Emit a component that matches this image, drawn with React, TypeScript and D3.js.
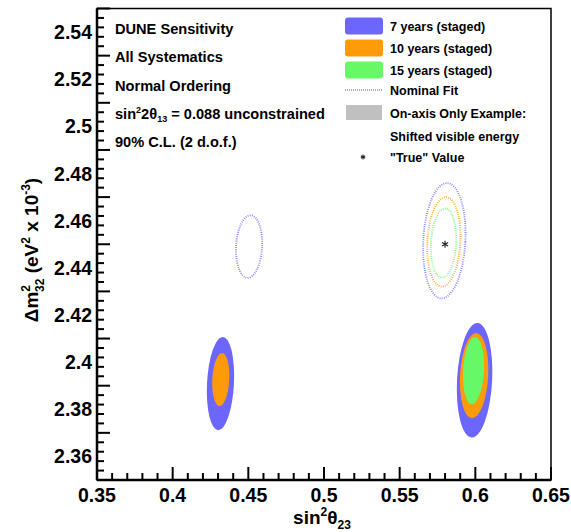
import React from 'react';
import * as d3 from 'd3';

const W = 571;
const H = 532;
const margin = { top: 8.5, right: 20, bottom: 52, left: 97 };

const xTicks = [0.35, 0.4, 0.45, 0.5, 0.55, 0.6, 0.65];
const yTicks = [2.36, 2.38, 2.4, 2.42, 2.44, 2.46, 2.48, 2.5, 2.52, 2.54];

const exposures = ['7 years (staged)', '10 years (staged)', '15 years (staged)'];
const colors = ['#6c66ff', '#ff9a08', '#66f866'];

// true value
const trueX = 0.58;
const trueY = 2.45;

// nominal fit contours (dotted), one per exposure
const nominalCx = [0.5795, 0.5792, 0.579];
const nominalCy = [2.4515, 2.451, 2.4505];
const nominalRx = [0.0139, 0.0109, 0.0083];
const nominalRy = [0.0245, 0.019, 0.0147];

// nominal fit, other octant (7 years only)
const octantCx = [0.4505];
const octantCy = [2.449];
const octantRx = [0.0086];
const octantRy = [0.0133];

// shifted visible energy, upper octant
const shiftHiCx = [0.5995, 0.5992, 0.5988];
const shiftHiCy = [2.3923, 2.3943, 2.3964];
const shiftHiRx = [0.0116, 0.0093, 0.0069];
const shiftHiRy = [0.0243, 0.0181, 0.0143];

// shifted visible energy, lower octant (7 and 10 years)
const shiftLoCx = [0.4316, 0.4318];
const shiftLoCy = [2.3909, 2.3926];
const shiftLoRx = [0.0089, 0.0056];
const shiftLoRy = [0.0198, 0.0113];

const infoLines = ['DUNE Sensitivity', 'All Systematics', 'Normal Ordering', 'SIN', '90% C.L. (2 d.o.f.)'];

const FONT = '"Liberation Sans", Arial, Helvetica, sans-serif';

const Star = ({ x, y, s = 3.5 }: { x: number; y: number; s?: number }) => {
  const a = s * 0.87;
  const b = s * 0.5;
  return (
    <path
      d={`M${x},${y - s}L${x},${y + s}M${x - a},${y - b}L${x + a},${y + b}M${x - a},${y + b}L${x + a},${y - b}`}
      stroke="#222"
      strokeWidth={1.1}
      fill="none"
    />
  );
};

export default function App() {
  const iw = W - margin.left - margin.right;
  const ih = H - margin.top - margin.bottom;
  const x = d3.scaleLinear().domain([0.35, 0.65]).range([margin.left, margin.left + iw]);
  const y = d3.scaleLinear().domain([2.35, 2.55]).range([margin.top + ih, margin.top]);

  const xMinor = d3.range(35, 66).map(v => v / 100);
  const yMinor = d3.range(0, 51).map(v => 2.35 + v * 0.004);

  const ell = (cx: number, cy: number, rx: number, ry: number, key: string, props: any) => {
    const px = x(cx);
    const py = y(cy);
    return (
      <ellipse
        key={key}
        cx={px}
        cy={py}
        rx={x(cx + rx) - px}
        ry={py - y(cy + ry)}
        transform={`rotate(3 ${px} ${py})`}
        {...props}
      />
    );
  };

  const dotted = (i: number) => ({
    fill: 'none',
    stroke: colors[i],
    strokeWidth: 1.8,
    strokeDasharray: '0.9 1.3',
    strokeOpacity: 0.85,
  });

  const bottom = margin.top + ih;
  const left = margin.left;

  return (
    <div style={{ position: 'fixed', left: 0, top: 0 }}>
      <svg width={W} height={H} style={{ display: 'block', background: '#fff' }} fontFamily={FONT}>
        {/* filled shifted contours */}
        {shiftHiCx.map((_, i) =>
          ell(shiftHiCx[i], shiftHiCy[i], shiftHiRx[i], shiftHiRy[i], `hi${i}`, { fill: colors[i] })
        )}
        {shiftLoCx.map((_, i) =>
          ell(shiftLoCx[i], shiftLoCy[i], shiftLoRx[i], shiftLoRy[i], `lo${i}`, { fill: colors[i] })
        )}
        {/* nominal dotted contours */}
        {nominalCx.map((_, i) => ell(nominalCx[i], nominalCy[i], nominalRx[i], nominalRy[i], `nom${i}`, dotted(i)))}
        {octantCx.map((_, i) => ell(octantCx[i], octantCy[i], octantRx[i], octantRy[i], `oct${i}`, dotted(i)))}
        <Star x={x(trueX)} y={y(trueY)} />

        {/* frame */}
        <rect x={left} y={margin.top} width={iw} height={ih} fill="none" stroke="#000" strokeWidth={1.5} />
        <line x1={left} x2={left + iw} y1={bottom} y2={bottom} stroke="#000" strokeWidth={2.5} />
        <line x1={left} x2={left} y1={margin.top} y2={bottom} stroke="#000" strokeWidth={2.5} />

        {/* x ticks */}
        {xMinor.map((v, i) => (
          <line key={`xm${i}`} x1={x(v)} x2={x(v)} y1={bottom} y2={bottom - (i % 5 === 0 ? 13 : 7)} stroke="#000" strokeWidth={2} />
        ))}
        {xTicks.map(v => (
          <text key={`xt${v}`} x={x(v)} y={bottom + 21.5} textAnchor="middle" fontSize={19.5} fontWeight="bold">
            {d3.format('')(v)}
          </text>
        ))}
        {/* y ticks */}
        {yMinor.map((v, i) => (
          <line key={`ym${i}`} x1={left} x2={left + (i % 5 === 0 ? 13 : 7)} y1={y(v)} y2={y(v)} stroke="#000" strokeWidth={2} />
        ))}
        {yTicks.map(v => (
          <text key={`yt${v}`} x={left - 5} y={y(v) + 7} textAnchor="end" fontSize={19.5} fontWeight="bold">
            {d3.format('')(+v.toFixed(2))}
          </text>
        ))}

        {/* axis titles */}
        <text x={322} y={524} textAnchor="middle" fontSize={19} fontWeight="bold">
          sin<tspan dy={-8} fontSize={12}>2</tspan>
          <tspan dy={8}>θ</tspan>
          <tspan dy={5} fontSize={12}>23</tspan>
        </text>
        <text transform="translate(38,250) rotate(-90)" textAnchor="middle" fontSize={19} fontWeight="bold">
          Δm<tspan dy={-8} fontSize={12}>2</tspan>
          <tspan dx={-7} dy={14} fontSize={12}>32</tspan>
          <tspan dy={-6}> (eV</tspan>
          <tspan dy={-8} fontSize={12}>2</tspan>
          <tspan dy={8}> x 10</tspan>
          <tspan dy={-8} fontSize={12}>-3</tspan>
          <tspan dy={8}>)</tspan>
        </text>

        {/* info text */}
        {infoLines.map((t, i) => (
          <text key={t} x={115} y={34 + i * 28.3} fontSize={14.6} fontWeight="bold">
            {t === 'SIN' ? (
              <>
                sin<tspan dy={-6} fontSize={9}>2</tspan>
                <tspan dy={6}>2θ</tspan>
                <tspan dy={3} fontSize={9}>13</tspan>
                <tspan dy={-3}> = 0.088 unconstrained</tspan>
              </>
            ) : (
              t
            )}
          </text>
        ))}

        {/* legend */}
        {exposures.map((t, i) => (
          <g key={t}>
            <rect x={345} y={[17.5, 39.5, 61.5][i]} width={38} height={17} rx={3} fill={colors[i]} />
            <text x={390} y={[26, 48, 70][i] + 4.5} fontSize={12.5} fontWeight="bold">
              {t}
            </text>
          </g>
        ))}
        <line x1={345} x2={383} y1={90} y2={90} stroke="#556" strokeWidth={1} strokeDasharray="1 1" />
        <text x={390} y={94.5} fontSize={12.5} fontWeight="bold">Nominal Fit</text>
        <rect x={346} y={105} width={36} height={15} fill="#c0c0c0" />
        <text x={390} y={117.5} fontSize={12.5} fontWeight="bold">On-axis Only Example:</text>
        <text x={390} y={141} fontSize={12.5} fontWeight="bold">Shifted visible energy</text>
        <Star x={363} y={157} s={2.5} />
        <text x={390} y={161.5} fontSize={12.5} fontWeight="bold">"True" Value</text>
      </svg>
    </div>
  );
}
